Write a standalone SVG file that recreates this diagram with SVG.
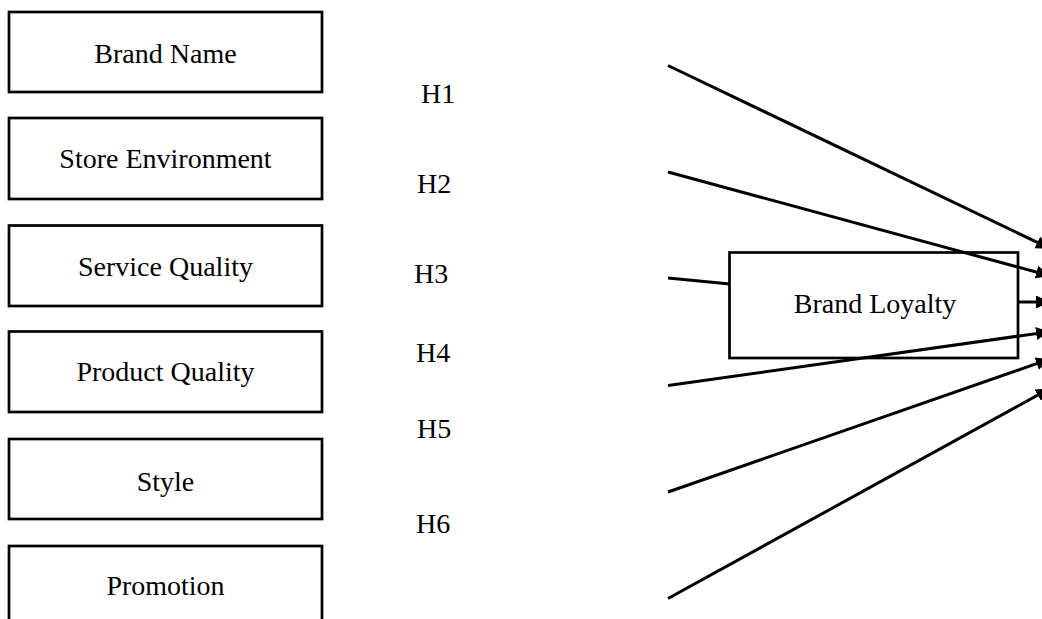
<svg xmlns="http://www.w3.org/2000/svg" width="1042" height="619" viewBox="0 0 1042 619">
<style>
.box{fill:#fff;stroke:#000;stroke-width:2.7}
.t{font-family:"Liberation Serif","Times New Roman",serif;font-size:28px;fill:#000}
.c{text-anchor:middle}
.ln{stroke:#000;stroke-width:3;fill:none}
</style>
<defs>
<marker id="ah" viewBox="0 0 14 13" refX="14" refY="6.5" markerWidth="14" markerHeight="13" markerUnits="userSpaceOnUse" orient="auto">
<path d="M0,0 L14,6.5 L0,13 z" fill="#000"/>
</marker>
</defs>
<rect width="1042" height="619" fill="#fff"/>
<g id="brand-name"><rect class="box" x="9" y="12" width="313" height="80"/><text class="t c" x="165.5" y="63">Brand Name</text></g>
<g id="store-environment"><rect class="box" x="9" y="118" width="313" height="81"/><text class="t c" x="165.5" y="168">Store Environment</text></g>
<g id="service-quality"><rect class="box" x="9" y="225.5" width="313" height="80.5"/><text class="t c" x="165.5" y="276">Service Quality</text></g>
<g id="product-quality"><rect class="box" x="9" y="331.5" width="313" height="80.5"/><text class="t c" x="165.5" y="381">Product Quality</text></g>
<g id="style"><rect class="box" x="9" y="439" width="313" height="80"/><text class="t c" x="165.5" y="491">Style</text></g>
<g id="promotion"><rect class="box" x="9" y="546" width="313" height="80"/><text class="t c" x="165.5" y="595">Promotion</text></g>
<g id="labels">
<text class="t" x="421" y="103">H1</text>
<text class="t" x="417" y="193">H2</text>
<text class="t" x="414" y="283">H3</text>
<text class="t" x="416" y="362">H4</text>
<text class="t" x="417" y="438">H5</text>
<text class="t" x="416" y="533">H6</text>
</g>
<g id="connectors-under">
<line class="ln" x1="668" y1="278" x2="730" y2="284"/>
</g>
<g id="brand-loyalty"><rect class="box" x="729.5" y="252.5" width="288.5" height="105.5"/><text class="t c" x="875" y="313">Brand Loyalty</text></g>
<g id="connectors">
<line class="ln" x1="668" y1="65.5" x2="1050" y2="248.5" marker-end="url(#ah)"/>
<line class="ln" x1="668" y1="172" x2="1050" y2="275.8" marker-end="url(#ah)"/>
<line class="ln" x1="1018" y1="302" x2="1050" y2="302" marker-end="url(#ah)"/>
<line class="ln" x1="668" y1="385.5" x2="1050" y2="331.6" marker-end="url(#ah)"/>
<line class="ln" x1="668" y1="492" x2="1050" y2="359" marker-end="url(#ah)"/>
<line class="ln" x1="668" y1="598.5" x2="1050" y2="388.4" marker-end="url(#ah)"/>
</g>
</svg>
